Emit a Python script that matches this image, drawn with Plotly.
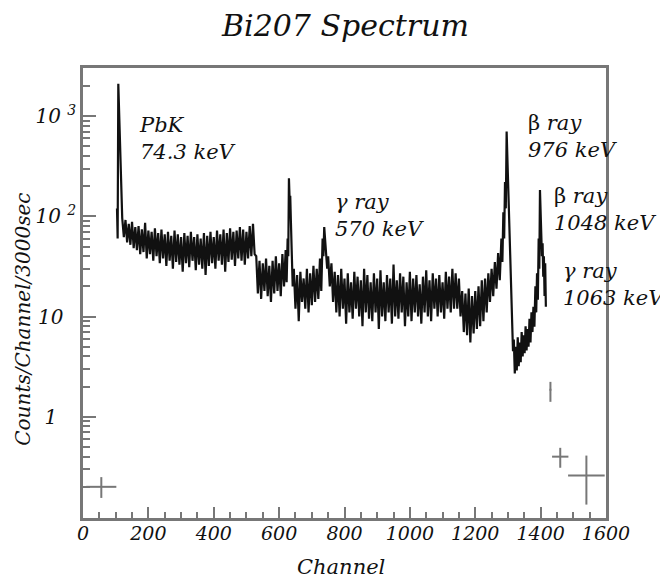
import math
import plotly.graph_objects as go

# ---------------- data ----------------
# spectrum: channel, upper and lower value of the dense noise band
channel = [104, 108, 112, 116,
           120, 130, 140, 150, 160, 170, 180, 190, 200, 210, 220, 230, 240, 250, 260, 270,
           280, 290, 300, 310, 320, 330, 340, 350, 360, 370, 380, 390, 400, 410, 420, 430,
           440, 450, 460, 470, 480, 490, 500, 510, 520,
           530, 540, 550, 560, 570, 580, 590, 600, 610, 620,
           626, 630, 634, 638,
           645, 655, 665, 675, 685, 695, 705, 715, 725,
           733, 738, 744, 750,
           760, 770, 780, 790, 800, 810, 820, 830, 840, 850, 860, 870, 880, 890, 900, 910,
           920, 930, 940, 950, 960, 970, 980, 990, 1000, 1010, 1020, 1030, 1040, 1050, 1060,
           1070, 1080, 1090, 1100, 1110, 1120, 1130, 1140,
           1150, 1160, 1170, 1180, 1190, 1200, 1210, 1220, 1230, 1240, 1250, 1260, 1270,
           1280, 1286, 1291, 1296, 1300, 1304, 1308, 1313, 1318, 1324, 1330, 1336, 1342,
           1348, 1354, 1360, 1366, 1372, 1378, 1384, 1389, 1394, 1398, 1402, 1406, 1410, 1414]
count_hi = [120, 2100, 700, 180,
            96, 92, 84, 88, 78, 80, 74, 86, 72, 70, 76, 68, 74, 66, 70, 64,
            72, 66, 62, 68, 64, 70, 62, 66, 60, 68, 64, 70, 62, 72, 66, 74,
            68, 76, 70, 72, 78, 74, 70, 80, 84,
            40, 36, 34, 38, 32, 36, 40, 34, 42, 46,
            60, 240, 160, 40,
            30, 26, 28, 24, 30, 27, 32, 30, 38,
            60, 78, 50, 40,
            34, 28, 26, 30, 24, 27, 22, 28, 25, 23, 30, 26, 22, 27, 24, 29,
            22, 26, 24, 33, 23, 27, 25, 22, 28, 24, 26, 21, 25, 29, 23,
            27, 24, 26, 22, 28, 25, 30, 27,
            24, 18, 17, 19, 16, 18, 20, 23, 24, 27, 30, 35, 43,
            60, 110, 220, 700, 400, 100, 24, 9, 5.9, 5.0, 6.2, 5.5, 7.0,
            6.5, 8.0, 7.5, 9.5, 11, 12.5, 20, 27, 60, 183, 80, 54, 40, 34]
count_lo = [60, 1200, 300, 110,
            62, 55, 52, 48, 46, 42, 44, 38, 42, 36, 40, 34, 38, 32, 36, 30,
            35, 33, 28, 34, 31, 36, 29, 33, 30, 26, 32, 34, 30, 36, 33, 28,
            35, 37, 32, 38, 36, 33, 38, 40, 42,
            17, 15, 18, 16, 14, 17, 18, 16, 20, 22,
            40, 150, 90, 20,
            12, 9, 14, 12, 11, 13, 14, 15, 18,
            40, 55, 30, 20,
            14, 11, 10, 12, 8.5, 11, 9.5, 12, 10, 8, 11, 9.5, 9, 11, 7.5, 10,
            9, 11, 8.5, 10, 9.5, 11, 8, 10, 9, 11, 10, 8.5, 11, 10, 9,
            12, 10, 11, 9.5, 12, 11, 12, 12,
            10, 7, 6.5, 5.5, 6.8, 7.5, 8, 9, 11, 14, 16, 19, 23,
            35, 60, 120, 400, 180, 40, 12, 4.5, 2.7, 2.9, 3.2, 3.5, 4.0,
            4.3, 4.6, 5.0, 5.5, 7, 7.9, 11, 14.7, 30, 100, 40, 25, 16, 12.5]

# sparse points with error bars
point_ch = [56, 1430, 1460, 1540]
point_val = [0.20, 1.86, 0.40, 0.26]
point_ch_err = [46, 3, 25, 56]
point_upper = [0.25, 2.23, 0.49, 0.41]
point_lower = [0.155, 1.41, 0.31, 0.133]

# axis ticks
x_tickvals = [0, 200, 400, 600, 800, 1000, 1200, 1400, 1600]
x_ticktext = ["0", "200", "400", "600", "800", "1000", "1200", "1400", "1600"]
y_tickvals = [1, 10, 100, 1000]
y_ticktext = ["1\u00a0\u00a0\u00a0", "10\u00a0\u00a0", "10\u00a0<sup>2</sup>", "10\u00a0<sup>3</sup>"]

# peak labels
label_ch = [165, 765, 1355, 1435, 1462]
label_val = [600, 102, 619, 116, 20.7]
label_text = ["<i>PbK</i><br><i>74.3 keV</i>",
              "<i>\u03b3 ray</i><br><i>570 keV</i>",
              "\u03b2 <i>ray</i><br><i>976 keV</i>",
              "\u03b2 <i>ray</i><br><i>1048 keV</i>",
              "<i>\u03b3 ray</i><br><i>1063 keV</i>"]

# ---------------- figure ----------------
FONT = "DejaVu Serif"
GREY = "#777777"
INK = "#111111"
# the page body has an 8 px default margin, so the figure is drawn 8 px smaller
PAGE_OFF = 8
W, H = 668 - PAGE_OFF, 582 - PAGE_OFF
PLOT_L, PLOT_T, PLOT_W, PLOT_H = 83 - PAGE_OFF, 68 - PAGE_OFF, 523, 450.5

# zigzag between the upper value at each channel and the lower value
# half way to the next channel -> dense noise band
xs, ys = [], []
n = len(channel)
for i in range(n):
    c = channel[i]
    nxt = channel[i + 1] if i + 1 < n else c + 4
    xs += [c, (c + nxt) / 2]
    ys += [count_hi[i], count_lo[i]]

fig = go.Figure()
fig.add_trace(go.Scatter(x=xs, y=ys, mode="lines",
                         line=dict(color=INK, width=2.2),
                         hoverinfo="skip", showlegend=False))

err_up = [u - v for u, v in zip(point_upper, point_val)]
err_dn = [v - l for v, l in zip(point_val, point_lower)]
fig.add_trace(go.Scatter(x=point_ch, y=point_val, mode="markers",
                         marker=dict(size=1, color=GREY),
                         error_x=dict(type="data", array=point_ch_err, color=GREY,
                                      thickness=2, width=0),
                         error_y=dict(type="data", array=err_up, arrayminus=err_dn,
                                      color=GREY, thickness=2, width=0),
                         hoverinfo="skip", showlegend=False))

for c, v, t in zip(label_ch, label_val, label_text):
    fig.add_annotation(x=c, y=math.log10(v), yref="y", xref="x", text=t, showarrow=False,
                       xanchor="left", yanchor="middle", align="left",
                       font=dict(family=FONT, size=21, color=INK))

y_minor = [m * 10 ** e for e in range(-1, 4) for m in range(2, 10)]

fig.update_layout(
    width=W, height=H, autosize=False,
    margin=dict(l=PLOT_L, r=W - PLOT_L - PLOT_W, t=PLOT_T, b=H - PLOT_T - PLOT_H),
    paper_bgcolor="white", plot_bgcolor="white",
    showlegend=False,
    font=dict(family=FONT, color=INK),
    xaxis=dict(range=[0, 1600], tickvals=x_tickvals, ticktext=x_ticktext,
               ticks="inside", ticklen=11, tickwidth=2, tickcolor=GREY,
               minor=dict(dtick=50, ticks="inside", ticklen=6, tickwidth=2,
                          tickcolor=GREY, showgrid=False),
               showline=True, linewidth=2.5, linecolor=GREY, mirror=True,
               showgrid=False, zeroline=False, ticklabelstandoff=-4,
               tickfont=dict(family=FONT, size=19, style="italic", color=INK)),
    yaxis=dict(type="log", range=[-1.01, 3.48], tickvals=y_tickvals, ticktext=y_ticktext,
               ticks="inside", ticklen=13, tickwidth=2, tickcolor=GREY,
               minor=dict(tickvals=y_minor, ticks="inside", ticklen=7, tickwidth=2,
                          tickcolor=GREY, showgrid=False),
               showline=True, linewidth=2.5, linecolor=GREY, mirror=True,
               showgrid=False, zeroline=False, ticklabelstandoff=0,
               tickfont=dict(family=FONT, size=20, style="italic", color=INK)),
)


def px_x(page_x):
    return (page_x - 83) / PLOT_W


def px_y(page_y):
    return (518.5 - page_y) / PLOT_H


fig.add_annotation(text="Bi207 Spectrum", xref="paper", yref="paper",
                   x=0.5, y=px_y(25), showarrow=False,
                   xanchor="center", yanchor="middle",
                   font=dict(family=FONT, size=30, style="italic", color=INK))
fig.add_annotation(text="Channel", xref="paper", yref="paper",
                   x=px_x(341), y=px_y(568), showarrow=False,
                   xanchor="center", yanchor="middle",
                   font=dict(family=FONT, size=21, style="italic", color=INK))
fig.add_annotation(text="Counts/Channel/3000sec", xref="paper", yref="paper",
                   x=px_x(23), y=px_y(320), showarrow=False,
                   textangle=-90, xanchor="center", yanchor="middle",
                   font=dict(family=FONT, size=20, style="italic", color=INK))

fig.write_html("out.html")
